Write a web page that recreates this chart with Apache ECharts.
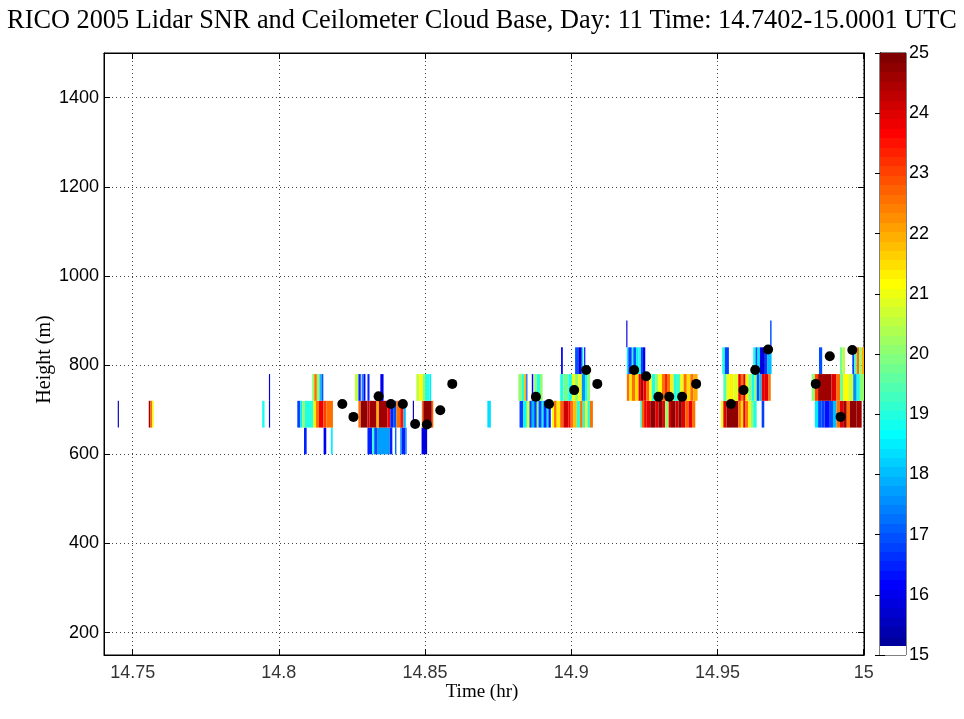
<!DOCTYPE html>
<html>
<head>
<meta charset="utf-8">
<script src="https://cdn.jsdelivr.net/npm/echarts@6/dist/echarts.min.js"></script>
<style>
html, body { margin: 0; padding: 0; background: #fff; }
#chart { width: 964px; height: 719px; }
</style>
</head>
<body>
<div id="chart"></div>
<script>
// Lidar range gates (lower edge, m) and gate depth
const gateBase = [600, 660, 720, 780, 840];
const gateDepth = 60;

// Lidar SNR per range gate, as runs: [start time (hr), end time (hr), SNR]
const snrGate600 = [
  [14.8086, 14.8095, 16.5], [14.8153, 14.8162, 16.0], [14.8178, 14.8184, 18.5],
  [14.8303, 14.8319, 16.5], [14.8319, 14.8326, 19.2], [14.8326, 14.8338, 17.0],
  [14.8338, 14.8379, 17.7], [14.8379, 14.8388, 16.5], [14.8397, 14.8402, 17.2],
  [14.8415, 14.8420, 17.6], [14.8420, 14.8433, 16.5], [14.8433, 14.8437, 17.3],
  [14.8488, 14.8507, 15.8]
];
const snrGate660 = [
  [14.7449, 14.7453, 15.6],
  [14.7555, 14.7561, 24.6], [14.7561, 14.7567, 22.6], [14.7567, 14.7572, 21.2],
  [14.7943, 14.7951, 18.8], [14.7966, 14.7970, 15.8],
  [14.8063, 14.8073, 16.8], [14.8073, 14.8080, 18.5], [14.8080, 14.8089, 20.0],
  [14.8089, 14.8118, 19.0], [14.8118, 14.8127, 21.3], [14.8127, 14.8137, 22.5],
  [14.8137, 14.8152, 23.8], [14.8152, 14.8162, 23.0], [14.8162, 14.8185, 22.5],
  [14.8272, 14.8280, 22.5], [14.8280, 14.8303, 24.7], [14.8303, 14.8310, 24.2],
  [14.8310, 14.8334, 24.6], [14.8334, 14.8342, 22.0], [14.8342, 14.8371, 24.6],
  [14.8371, 14.8381, 23.8], [14.8381, 14.8391, 16.5], [14.8391, 14.8402, 17.0],
  [14.8402, 14.8415, 22.5], [14.8415, 14.8426, 23.5], [14.8426, 14.8434, 18.0],
  [14.8458, 14.8462, 15.6],
  [14.8489, 14.8494, 22.5], [14.8494, 14.8523, 24.8], [14.8523, 14.8528, 22.8],
  [14.8713, 14.8725, 18.3],
  [14.8823, 14.8836, 16.8], [14.8836, 14.8848, 18.7], [14.8848, 14.8857, 21.0],
  [14.8857, 14.8865, 16.8], [14.8865, 14.8873, 18.0], [14.8873, 14.8882, 16.8],
  [14.8882, 14.8888, 20.0], [14.8888, 14.8899, 17.0], [14.8899, 14.8905, 18.7],
  [14.8905, 14.8916, 16.7], [14.8916, 14.8922, 18.5], [14.8922, 14.8930, 16.5],
  [14.8933, 14.8941, 21.2], [14.8941, 14.8950, 22.5], [14.8950, 14.8962, 21.3],
  [14.8962, 14.8973, 22.7], [14.8973, 14.8990, 24.2], [14.8990, 14.8998, 23.7],
  [14.8998, 14.9007, 22.5], [14.9007, 14.9019, 21.8], [14.9019, 14.9030, 19.0],
  [14.9030, 14.9039, 22.5], [14.9039, 14.9047, 19.0], [14.9047, 14.9055, 21.2],
  [14.9055, 14.9064, 19.0], [14.9064, 14.9074, 22.5],
  [14.9236, 14.9241, 19.0], [14.9241, 14.9249, 22.8], [14.9249, 14.9258, 23.8],
  [14.9258, 14.9270, 24.0], [14.9270, 14.9287, 24.8], [14.9287, 14.9298, 24.0],
  [14.9298, 14.9313, 24.8], [14.9313, 14.9321, 23.8], [14.9321, 14.9333, 20.0],
  [14.9333, 14.9341, 24.0], [14.9341, 14.9356, 24.7], [14.9356, 14.9367, 24.2],
  [14.9367, 14.9378, 24.7], [14.9378, 14.9390, 24.0], [14.9390, 14.9401, 22.8],
  [14.9401, 14.9413, 23.8], [14.9413, 14.9424, 22.5],
  [14.9512, 14.9520, 21.0], [14.9520, 14.9531, 24.0], [14.9531, 14.9571, 24.8],
  [14.9571, 14.9580, 22.5], [14.9580, 14.9588, 21.5], [14.9588, 14.9596, 23.8],
  [14.9596, 14.9605, 22.5], [14.9605, 14.9614, 21.3], [14.9614, 14.9622, 20.0],
  [14.9622, 14.9634, 19.0], [14.9651, 14.9660, 16.8],
  [14.9833, 14.9844, 18.5], [14.9844, 14.9855, 17.0], [14.9855, 14.9866, 16.8],
  [14.9866, 14.9884, 16.3], [14.9884, 14.9895, 17.0], [14.9895, 14.9907, 18.0],
  [14.9907, 14.9919, 22.5], [14.9919, 14.9930, 24.0], [14.9930, 14.9942, 24.6],
  [14.9942, 14.9953, 22.5], [14.9953, 14.9976, 24.8], [14.9976, 14.9993, 24.6]
];
const snrGate720 = [
  [14.7966, 14.7970, 15.8],
  [14.8114, 14.8121, 20.0], [14.8121, 14.8130, 22.5], [14.8130, 14.8139, 20.0],
  [14.8139, 14.8146, 18.0], [14.8146, 14.8152, 17.0],
  [14.8260, 14.8272, 20.5], [14.8272, 14.8280, 16.5], [14.8283, 14.8288, 17.5],
  [14.8289, 14.8296, 16.0], [14.8303, 14.8310, 16.5], [14.8347, 14.8358, 16.0],
  [14.8470, 14.8480, 20.5], [14.8480, 14.8492, 21.2], [14.8492, 14.8500, 20.0],
  [14.8500, 14.8515, 19.0], [14.8515, 14.8521, 18.5],
  [14.8819, 14.8831, 20.0], [14.8831, 14.8839, 19.0], [14.8839, 14.8846, 22.0],
  [14.8846, 14.8850, 17.0], [14.8865, 14.8870, 16.0], [14.8873, 14.8882, 20.0],
  [14.8882, 14.8893, 19.0], [14.8893, 14.8902, 20.0],
  [14.8962, 14.8973, 19.0], [14.8973, 14.8990, 19.8], [14.8990, 14.9002, 18.8],
  [14.9002, 14.9013, 21.0], [14.9013, 14.9024, 20.0], [14.9024, 14.9036, 21.0],
  [14.9036, 14.9047, 17.5], [14.9047, 14.9055, 18.8], [14.9055, 14.9064, 20.0],
  [14.9190, 14.9199, 22.5], [14.9199, 14.9207, 21.3], [14.9207, 14.9218, 22.5],
  [14.9218, 14.9230, 21.5], [14.9230, 14.9238, 23.8], [14.9238, 14.9247, 24.5],
  [14.9247, 14.9256, 23.8], [14.9256, 14.9267, 22.5], [14.9267, 14.9275, 21.2],
  [14.9275, 14.9287, 19.0], [14.9287, 14.9298, 20.0], [14.9298, 14.9310, 21.2],
  [14.9310, 14.9321, 22.5], [14.9321, 14.9327, 23.8], [14.9327, 14.9338, 22.5],
  [14.9338, 14.9350, 21.3], [14.9350, 14.9361, 19.0], [14.9361, 14.9372, 19.3],
  [14.9372, 14.9384, 21.0], [14.9384, 14.9395, 22.5], [14.9395, 14.9407, 21.5],
  [14.9407, 14.9418, 22.5], [14.9418, 14.9432, 22.0],
  [14.9520, 14.9531, 19.5], [14.9531, 14.9543, 21.0], [14.9543, 14.9554, 21.3],
  [14.9554, 14.9571, 20.8], [14.9571, 14.9580, 23.8], [14.9580, 14.9588, 22.5],
  [14.9588, 14.9596, 24.0], [14.9596, 14.9605, 21.3], [14.9605, 14.9617, 20.0],
  [14.9617, 14.9626, 18.8], [14.9626, 14.9634, 20.0], [14.9634, 14.9643, 17.0],
  [14.9643, 14.9651, 18.0], [14.9651, 14.9662, 23.8], [14.9662, 14.9674, 24.0],
  [14.9674, 14.9682, 22.5],
  [14.9822, 14.9833, 20.0], [14.9833, 14.9844, 23.0], [14.9844, 14.9890, 24.6],
  [14.9890, 14.9907, 24.0], [14.9907, 14.9919, 22.5], [14.9919, 14.9930, 19.8],
  [14.9930, 14.9947, 21.2], [14.9947, 14.9964, 20.7], [14.9964, 14.9976, 17.5],
  [14.9976, 14.9987, 19.0], [14.9987, 15.0001, 20.0]
];
const snrGate780 = [
  [14.8965, 14.8971, 16.0], [14.9013, 14.9024, 17.0], [14.9024, 14.9036, 15.8],
  [14.9036, 14.9041, 18.5], [14.9044, 14.9048, 16.0],
  [14.9190, 14.9195, 18.5], [14.9195, 14.9207, 16.8], [14.9207, 14.9212, 19.0],
  [14.9212, 14.9222, 17.0], [14.9222, 14.9230, 18.5], [14.9230, 14.9238, 19.0],
  [14.9238, 14.9245, 16.8], [14.9245, 14.9253, 16.0],
  [14.9516, 14.9525, 19.0], [14.9525, 14.9539, 16.8],
  [14.9622, 14.9630, 18.8], [14.9630, 14.9637, 17.0], [14.9637, 14.9645, 18.5],
  [14.9645, 14.9662, 15.8], [14.9662, 14.9671, 16.8], [14.9671, 14.9685, 18.0],
  [14.9847, 14.9858, 17.0], [14.9919, 14.9927, 19.8], [14.9927, 14.9936, 20.5],
  [14.9961, 14.9968, 16.8], [14.9968, 14.9976, 19.5], [14.9976, 14.9984, 22.5],
  [14.9984, 14.9993, 20.0], [14.9993, 15.0001, 22.0]
];
const snrGate840 = [
  [14.9188, 14.9192, 15.8], [14.9680, 14.9685, 17.0]
];
const snrByGate = [snrGate600, snrGate660, snrGate720, snrGate780, snrGate840];

// Ceilometer cloud base
const cloudBaseTime = [
  14.8217, 14.8255, 14.8341, 14.8383, 14.8424, 14.8466, 14.8506, 14.8552, 14.8593,
  14.8879, 14.8924, 14.9010, 14.9051, 14.9089,
  14.9215, 14.9256, 14.9298, 14.9335, 14.9379, 14.9427,
  14.9546, 14.9589, 14.9629, 14.9673, 14.9836, 14.9884, 14.9921, 14.9961
];
const cloudBaseHeight = [
  713, 684, 730, 713, 713, 668, 667, 699, 758,
  729, 713, 744, 789, 758,
  789, 775, 729, 729, 729, 758,
  713, 744, 789, 835, 758, 820, 684, 834
];

// Axis ticks
const timeTicks = [14.75, 14.8, 14.85, 14.9, 14.95, 15];
const heightTicks = [200, 400, 600, 800, 1000, 1200, 1400];
const snrTicks = [15, 16, 17, 18, 19, 20, 21, 22, 23, 24, 25];
const heightMin = 150, heightMax = 1500;
const timeMin = 14.7402, timeMax = 15.0001;
const snrMin = 15, snrMax = 25;
const nColors = 64;

// MATLAB-style jet(64), row 1 replaced by white
function jetRow(row) { // row: 1..64
  const m = 16;
  const u = i => (i <= m ? i / m : (i <= 31 ? 1 : (47 - i + 1) / m));
  let r = 0, g = 0, b = 0;
  if (row >= 25) r = u(row - 24);
  if (row >= 9 && row <= 55) g = u(row - 8);
  if (row <= 39) b = u(row + 8);
  return [r, g, b];
}
function colorForRow(row) {
  if (row <= 1) return '#ffffff';
  const c = jetRow(row).map(x => Math.round(Math.max(0, Math.min(1, x)) * 255));
  return 'rgb(' + c.join(',') + ')';
}
function colorForSnr(v) {
  let row = Math.floor((v - snrMin) / (snrMax - snrMin) * nColors) + 1;
  row = Math.max(1, Math.min(nColors, row));
  return colorForRow(row);
}

// Flatten runs into rect records: [t0, t1, h0, h1, snr]
const snrCells = [];
snrByGate.forEach((runs, gi) => {
  runs.forEach(r => snrCells.push([r[0], r[1], gateBase[gi], gateBase[gi] + gateDepth, r[2]]));
});

// Colorbar bins
const cbarBins = [];
for (let i = 0; i < nColors; i++) {
  const lo = snrMin + i * (snrMax - snrMin) / nColors;
  const hi = snrMin + (i + 1) * (snrMax - snrMin) / nColors;
  cbarBins.push([0, 1, lo, hi, i + 1]);
}

const sans = 'Liberation Sans, Arial, Helvetica, sans-serif';
const serif = 'Liberation Serif, Times New Roman, serif';

const gridLine = { show: true, lineStyle: { color: '#444', width: 1, type: [1, 3] } };
const tickIn = { show: true, inside: true, length: 6, lineStyle: { color: '#000', width: 1 } };

const chart = echarts.init(document.getElementById('chart'), null, { renderer: 'canvas' });

chart.setOption({
  backgroundColor: '#fff',
  animation: false,
  title: {
    text: 'RICO 2005 Lidar SNR and Ceilometer Cloud Base, Day: 11 Time: 14.7402-15.0001 UTC',
    left: 'center', top: 3,
    textStyle: { fontFamily: serif, fontSize: 26.3, fontWeight: 'normal', color: '#000' }
  },
  graphic: [
    {
      type: 'text', left: 35, top: 'middle', rotation: Math.PI / 2,
      style: { text: 'Height (m)', fontFamily: serif, fontSize: 20, fill: '#000' }
    },
    {
      type: 'text', left: 'center', top: 683,
      style: { text: 'Time (hr)', fontFamily: serif, fontSize: 19, fill: '#000' }
    }
  ],
  grid: [
    { left: 104, top: 53, width: 760, height: 602, show: true, borderColor: '#000', borderWidth: 1, backgroundColor: 'transparent' },
    { left: 880, top: 53, width: 26, height: 602, show: true, borderColor: '#000', borderWidth: 1, backgroundColor: 'transparent' }
  ],
  xAxis: [
    {
      gridIndex: 0, type: 'value', min: timeMin, max: timeMax, position: 'bottom',
      axisLine: { show: true, lineStyle: { color: '#000' } },
      axisTick: Object.assign({ customValues: timeTicks }, tickIn),
      axisLabel: { show: false },
      splitLine: gridLine
    },
    {
      gridIndex: 0, type: 'value', min: timeMin, max: timeMax, position: 'top',
      axisLine: { show: true, lineStyle: { color: '#000' } },
      axisTick: Object.assign({ customValues: timeTicks }, tickIn),
      axisLabel: { show: false }, splitLine: { show: false }
    },
    {
      gridIndex: 1, type: 'value', min: 0, max: 1, show: false
    }
  ],
  yAxis: [
    {
      gridIndex: 0, type: 'value', min: heightMin, max: heightMax, position: 'left',
      axisLine: { show: true, lineStyle: { color: '#000' } },
      axisTick: Object.assign({ customValues: heightTicks }, tickIn),
      axisLabel: { customValues: heightTicks, fontFamily: sans, fontSize: 18, color: '#000', margin: 5,
                   formatter: v => String(Math.round(v)) },
      splitLine: gridLine
    },
    {
      gridIndex: 0, type: 'value', min: heightMin, max: heightMax, position: 'right',
      axisLine: { show: true, lineStyle: { color: '#000' } },
      axisTick: Object.assign({ customValues: heightTicks }, tickIn),
      axisLabel: { show: false }, splitLine: { show: false }
    },
    {
      gridIndex: 1, type: 'value', min: snrMin, max: snrMax, position: 'right',
      axisLine: { show: true, lineStyle: { color: '#000' } },
      axisTick: Object.assign({ customValues: snrTicks }, tickIn, { length: 5 }),
      axisLabel: { customValues: snrTicks, fontFamily: sans, fontSize: 18, color: '#000', margin: 3 },
      splitLine: { show: false }
    },
    {
      gridIndex: 1, type: 'value', min: snrMin, max: snrMax, position: 'left',
      axisLine: { show: true, lineStyle: { color: '#000' } },
      axisTick: Object.assign({ customValues: snrTicks }, tickIn, { length: 5 }),
      axisLabel: { show: false }, splitLine: { show: false }
    }
  ],
  series: [
    {
      type: 'custom', name: 'Lidar SNR', xAxisIndex: 0, yAxisIndex: 0,
      data: snrCells, encode: { x: [0, 1], y: [2, 3] }, clip: true, silent: true,
      renderItem: (params, api) => {
        const a = api.coord([api.value(0), api.value(3)]);
        const b = api.coord([api.value(1), api.value(2)]);
        return {
          type: 'rect',
          shape: { x: a[0], y: a[1], width: Math.max(b[0] - a[0], 0.8), height: b[1] - a[1] },
          style: { fill: colorForSnr(api.value(4)) }
        };
      }
    },
    {
      type: 'scatter', name: 'Cloud Base', xAxisIndex: 0, yAxisIndex: 0,
      data: cloudBaseTime.map((t, i) => [t, cloudBaseHeight[i]]),
      symbol: 'circle', symbolSize: 10, itemStyle: { color: '#000', opacity: 1 }, silent: true, z: 5
    },
    {
      // Time tick labels along the bottom edge of the axes
      type: 'scatter', name: 'Time labels', xAxisIndex: 0, yAxisIndex: 0,
      data: timeTicks.map(t => [t, heightMin]),
      symbol: 'circle', symbolSize: 1, clip: false, silent: true,
      itemStyle: { color: 'rgba(0,0,0,0)' },
      label: {
        show: true, position: 'bottom', distance: 9,
        fontFamily: sans, fontSize: 18, color: '#000',
        formatter: p => String(+p.value[0].toFixed(2))
      },
      labelLayout: { hideOverlap: false }
    },
    {
      type: 'custom', name: 'Colorbar', xAxisIndex: 2, yAxisIndex: 2,
      data: cbarBins, encode: { x: [0, 1], y: [2, 3] }, silent: true,
      renderItem: (params, api) => {
        const a = api.coord([api.value(0), api.value(3)]);
        const b = api.coord([api.value(1), api.value(2)]);
        return {
          type: 'rect',
          shape: { x: a[0], y: Math.floor(a[1]), width: b[0] - a[0], height: Math.ceil(b[1]) - Math.floor(a[1]) },
          style: { fill: colorForRow(api.value(4)) }
        };
      }
    }
  ]
});
</script>
</body>
</html>
